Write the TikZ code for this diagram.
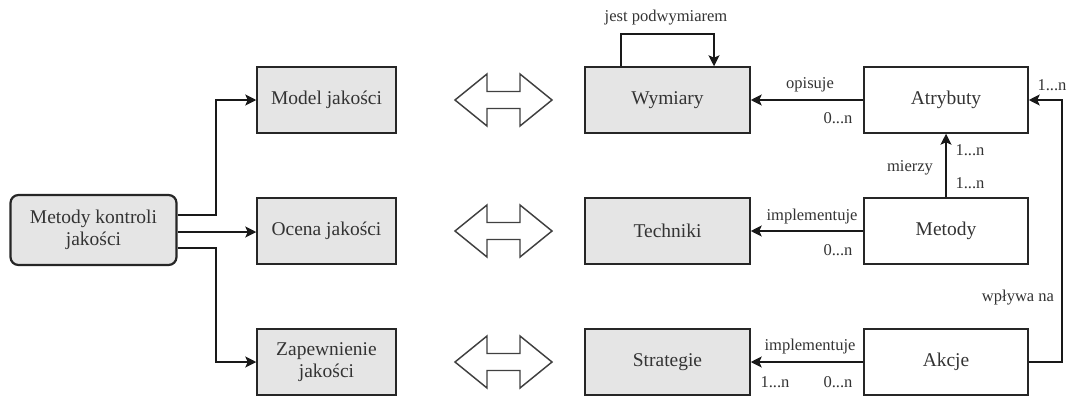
\documentclass[tikz,border=0pt]{standalone}
\usepackage{fontspec}
\setmainfont{Liberation Serif}
\newfontfamily\dfont{Liberation Serif}
\usetikzlibrary{arrows.meta}
% one unit = one pixel of the 1067 x 396 canvas (0.75pt)
\newdimen\pxu \pxu=0.75pt
\tikzset{
  base/.style={draw=black!85, line width=1.5\pxu, align=center, inner sep=0pt,
    text=black!80, font=\dfont\fontsize{14.6}{16.8}\selectfont},
  greybox/.style={base, fill=gray!20, minimum height=66\pxu},
  whitebox/.style={base, fill=white, minimum width=164\pxu, minimum height=66\pxu},
  rootbox/.style={base, fill=gray!20, rounded corners=6pt, line width=1.65pt,
    minimum width=166\pxu, minimum height=70\pxu},
  lbl/.style={inner sep=0pt, text=black!80, font=\dfont\fontsize{12.4}{14}\selectfont},
  conn/.style={draw=black!90, line width=1.1pt,
    -{Stealth[length=8.25pt, width=8.25pt, inset=1.9pt]}},
  dbl/.style={draw=black!75, fill=white, line width=1.1pt, line join=miter},
}
\begin{document}
\begin{tikzpicture}[x=\pxu, y=-\pxu]
\useasboundingbox (0,0) rectangle (1067,396);

% root and the three areas
\node[rootbox] (mk) at (93.5,230) {Metody kontroli\\jakości};
\node[greybox, minimum width=139\pxu] (model) at (326.5,100) {Model jakości};
\node[greybox, minimum width=139\pxu] (ocena) at (326.5,231) {Ocena jakości};
\node[greybox, minimum width=139\pxu] (zap) at (326.5,362) {Zapewnienie\\jakości};

% concepts
\node[greybox, minimum width=165\pxu] (wym) at (667.5,100) {Wymiary};
\node[greybox, minimum width=165\pxu] (tech) at (667.5,231) {Techniki};
\node[greybox, minimum width=165\pxu] (strat) at (667.5,362) {Strategie};

\node[whitebox] (atr) at (946,100) {Atrybuty};
\node[whitebox] (met) at (946,231) {Metody};
\node[whitebox] (akc) at (946,362) {Akcje};

% double arrows between the columns
\foreach \yy in {100,231,362}{
  \draw[dbl, shift={(503.5,\yy)}]
    (-48.5,0) -- (-16.5,-26) -- (-16.5,-8.5) -- (16.5,-8.5) -- (16.5,-26)
    -- (48.5,0) -- (16.5,26) -- (16.5,8.5) -- (-16.5,8.5) -- (-16.5,26) -- cycle;
}

% root to areas
\coordinate (up) at (0,215);
\coordinate (mid) at (0,232);
\coordinate (low) at (0,248);
\coordinate (bus) at (216,0);
\draw[conn] (mk.east |- up) -- (bus |- up) -- (bus |- model.west) -- (model.west);
\draw[conn] (mk.east |- mid) -- (ocena.west |- mid);
\draw[conn] (mk.east |- low) -- (bus |- low) -- (bus |- zap.west) -- (zap.west);

% self relation of Wymiary
\coordinate (loopA) at (621,34);
\coordinate (loopB) at (714,34);
\draw[conn] (wym.north -| loopA) -- (loopA) -- (loopB) -- (wym.north -| loopB);
\node[lbl] (lloop) at (666,18) {jest podwymiarem};

% Atrybuty -> Wymiary
\draw[conn] (atr.west) -- (wym.east);
\node[lbl] (l1) at (810,85) {opisuje};
\node[lbl] (l2) at (838,118) {0...n};

% Metody -> Atrybuty
\draw[conn] (met.north) -- (atr.south);
\node[lbl] (l3) at (970,150) {1...n};
\node[lbl] (l4) at (910,168) {mierzy};
\node[lbl] (l5) at (970,183) {1...n};

% Metody -> Techniki
\draw[conn] (met.west) -- (tech.east);
\node[lbl] (l6) at (812,217) {implementuje};
\node[lbl] (l7) at (838,250) {0...n};

% Akcje -> Strategie
\draw[conn] (akc.west) -- (strat.east);
\node[lbl] (l8) at (810,347) {implementuje};
\node[lbl] (l9) at (775,382) {1...n};
\node[lbl] (l10) at (838,382) {0...n};

% Akcje -> Atrybuty
\coordinate (rc) at (1062,0);
\draw[conn] (akc.east) -- (akc.east -| rc) -- (atr.east -| rc) -- (atr.east);
\node[lbl] (l11) at (1018,298) {wpływa na};
\node[lbl] (l12) at (1052,85) {1...n};
\end{tikzpicture}
\end{document}
